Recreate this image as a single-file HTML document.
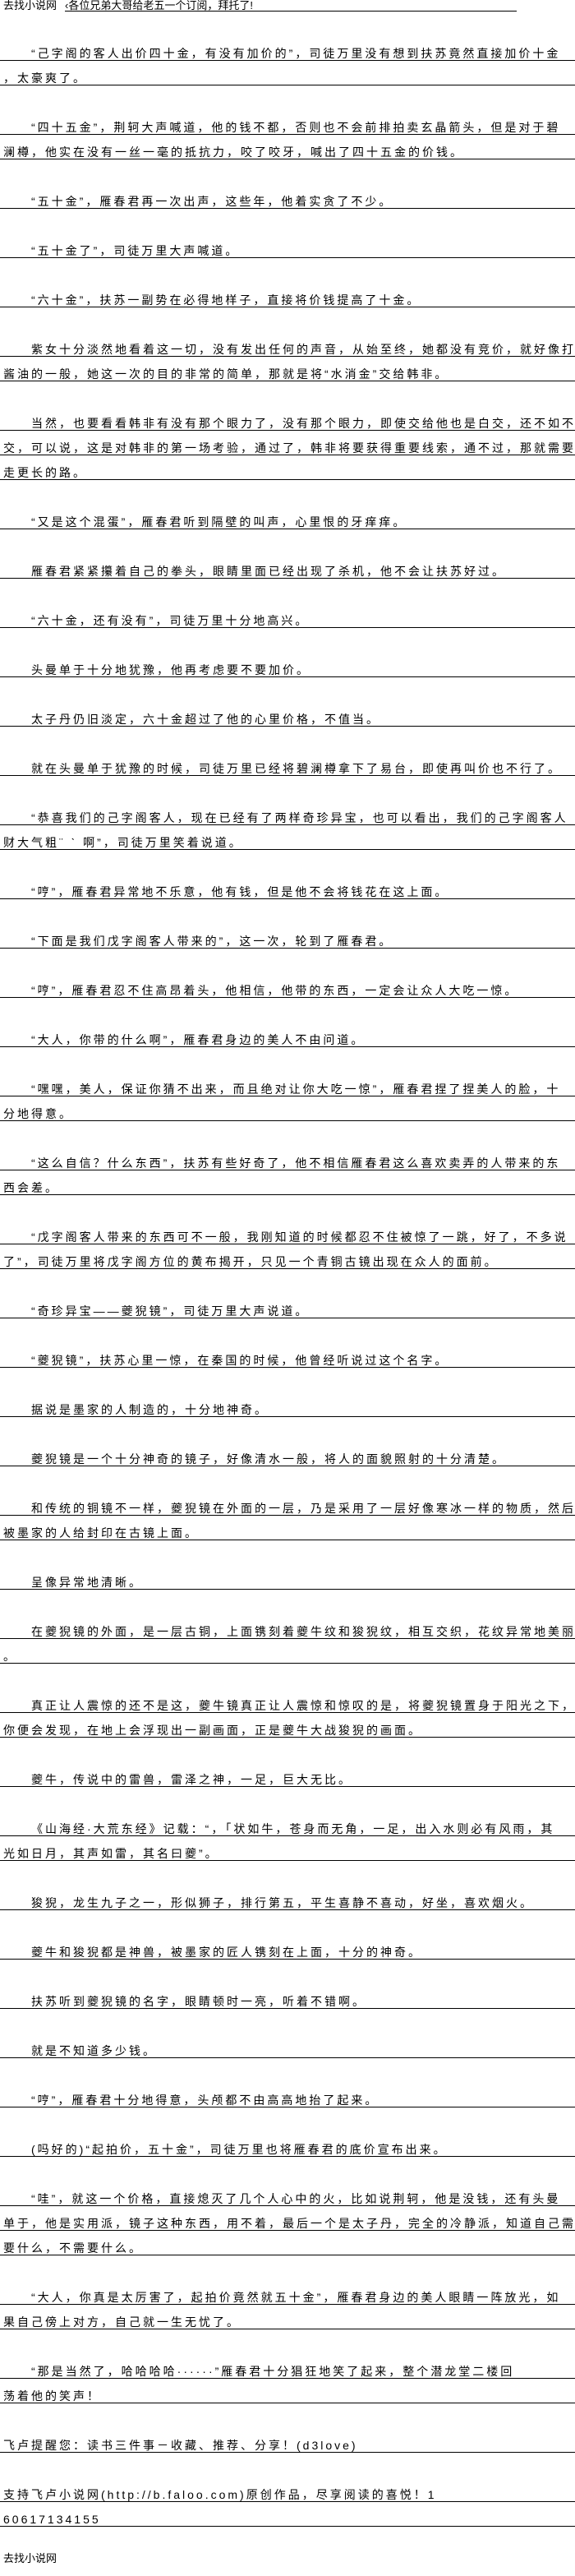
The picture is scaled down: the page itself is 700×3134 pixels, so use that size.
<!DOCTYPE html>
<html><head><meta charset="utf-8">
<style>
html,body{margin:0;padding:0;background:#fff;}
body{width:700px;height:3110px;overflow:hidden;font-family:"Liberation Sans","Noto Sans CJK SC","WenQuanYi Zen Hei",sans-serif;color:#000;}
.hd{height:14px;position:relative;font-size:13px;line-height:13px;white-space:nowrap;}
.hd .a{position:absolute;left:4px;top:0;}
.hd .b{position:absolute;left:79px;top:0;width:550px;height:13px;border-bottom:1px solid #000;}
p{margin:30px 0 0 0;padding:0;}
.l{height:30px;box-sizing:border-box;border-bottom:1px solid #000;position:relative;white-space:nowrap;font-size:14px;letter-spacing:3px;}
.l span{position:absolute;left:4px;bottom:1px;line-height:14px;}
.i span{left:38px;}
.ft{height:30px;position:relative;font-size:13px;white-space:nowrap;}
.ft span{position:absolute;left:4px;top:2px;line-height:13px;}
</style></head><body>
<div class="hd"><span class="a">去找小说网</span><span class="b">‹各位兄弟大哥给老五一个订阅，拜托了!</span></div>

<p><div class="l i"><span>“己字阁的客人出价四十金，有没有加价的”，司徒万里没有想到扶苏竟然直接加价十金</span></div><div class="l"><span>，太豪爽了。</span></div></p>
<p><div class="l i"><span>“四十五金”，荆轲大声喊道，他的钱不都，否则也不会前排拍卖玄晶箭头，但是对于碧</span></div><div class="l"><span>澜樽，他实在没有一丝一毫的抵抗力，咬了咬牙，喊出了四十五金的价钱。</span></div></p>
<p><div class="l i"><span>“五十金”，雁春君再一次出声，这些年，他着实贪了不少。</span></div></p>
<p><div class="l i"><span>“五十金了”，司徒万里大声喊道。</span></div></p>
<p><div class="l i"><span>“六十金”，扶苏一副势在必得地样子，直接将价钱提高了十金。</span></div></p>
<p><div class="l i"><span>紫女十分淡然地看着这一切，没有发出任何的声音，从始至终，她都没有竞价，就好像打</span></div><div class="l"><span>酱油的一般，她这一次的目的非常的简单，那就是将“水消金”交给韩非。</span></div></p>
<p><div class="l i"><span>当然，也要看看韩非有没有那个眼力了，没有那个眼力，即使交给他也是白交，还不如不</span></div><div class="l"><span>交，可以说，这是对韩非的第一场考验，通过了，韩非将要获得重要线索，通不过，那就需要</span></div><div class="l"><span>走更长的路。</span></div></p>
<p><div class="l i"><span>“又是这个混蛋”，雁春君听到隔壁的叫声，心里恨的牙痒痒。</span></div></p>
<p><div class="l i"><span>雁春君紧紧攥着自己的拳头，眼睛里面已经出现了杀机，他不会让扶苏好过。</span></div></p>
<p><div class="l i"><span>“六十金，还有没有”，司徒万里十分地高兴。</span></div></p>
<p><div class="l i"><span>头曼单于十分地犹豫，他再考虑要不要加价。</span></div></p>
<p><div class="l i"><span>太子丹仍旧淡定，六十金超过了他的心里价格，不值当。</span></div></p>
<p><div class="l i"><span>就在头曼单于犹豫的时候，司徒万里已经将碧澜樽拿下了易台，即使再叫价也不行了。</span></div></p>
<p><div class="l i"><span>“恭喜我们的己字阁客人，现在已经有了两样奇珍异宝，也可以看出，我们的己字阁客人</span></div><div class="l"><span>财大气粗¨ ˋ 啊”，司徒万里笑着说道。</span></div></p>
<p><div class="l i"><span>“哼”，雁春君异常地不乐意，他有钱，但是他不会将钱花在这上面。</span></div></p>
<p><div class="l i"><span>“下面是我们戊字阁客人带来的”，这一次，轮到了雁春君。</span></div></p>
<p><div class="l i"><span>“哼”，雁春君忍不住高昂着头，他相信，他带的东西，一定会让众人大吃一惊。</span></div></p>
<p><div class="l i"><span>“大人，你带的什么啊”，雁春君身边的美人不由问道。</span></div></p>
<p><div class="l i"><span>“嘿嘿，美人，保证你猜不出来，而且绝对让你大吃一惊”，雁春君捏了捏美人的脸，十</span></div><div class="l"><span>分地得意。</span></div></p>
<p><div class="l i"><span>“这么自信？什么东西”，扶苏有些好奇了，他不相信雁春君这么喜欢卖弄的人带来的东</span></div><div class="l"><span>西会差。</span></div></p>
<p><div class="l i"><span>“戊字阁客人带来的东西可不一般，我刚知道的时候都忍不住被惊了一跳，好了，不多说</span></div><div class="l"><span>了”，司徒万里将戊字阁方位的黄布揭开，只见一个青铜古镜出现在众人的面前。</span></div></p>
<p><div class="l i"><span>“奇珍异宝——夔猊镜”，司徒万里大声说道。</span></div></p>
<p><div class="l i"><span>“夔猊镜”，扶苏心里一惊，在秦国的时候，他曾经听说过这个名字。</span></div></p>
<p><div class="l i"><span>据说是墨家的人制造的，十分地神奇。</span></div></p>
<p><div class="l i"><span>夔猊镜是一个十分神奇的镜子，好像清水一般，将人的面貌照射的十分清楚。</span></div></p>
<p><div class="l i"><span>和传统的铜镜不一样，夔猊镜在外面的一层，乃是采用了一层好像寒冰一样的物质，然后</span></div><div class="l"><span>被墨家的人给封印在古镜上面。</span></div></p>
<p><div class="l i"><span>呈像异常地清晰。</span></div></p>
<p><div class="l i"><span>在夔猊镜的外面，是一层古铜，上面镌刻着夔牛纹和狻猊纹，相互交织，花纹异常地美丽</span></div><div class="l"><span>。</span></div></p>
<p><div class="l i"><span>真正让人震惊的还不是这，夔牛镜真正让人震惊和惊叹的是，将夔猊镜置身于阳光之下，</span></div><div class="l"><span>你便会发现，在地上会浮现出一副画面，正是夔牛大战狻猊的画面。</span></div></p>
<p><div class="l i"><span>夔牛，传说中的雷兽，雷泽之神，一足，巨大无比。</span></div></p>
<p><div class="l i"><span>《山海经·大荒东经》记载：“，「状如牛，苍身而无角，一足，出入水则必有风雨，其</span></div><div class="l"><span>光如日月，其声如雷，其名曰夔”。</span></div></p>
<p><div class="l i"><span>狻猊，龙生九子之一，形似狮子，排行第五，平生喜静不喜动，好坐，喜欢烟火。</span></div></p>
<p><div class="l i"><span>夔牛和狻猊都是神兽，被墨家的匠人镌刻在上面，十分的神奇。</span></div></p>
<p><div class="l i"><span>扶苏听到夔猊镜的名字，眼睛顿时一亮，听着不错啊。</span></div></p>
<p><div class="l i"><span>就是不知道多少钱。</span></div></p>
<p><div class="l i"><span>“哼”，雁春君十分地得意，头颅都不由高高地抬了起来。</span></div></p>
<p><div class="l i"><span>(吗好的)“起拍价，五十金”，司徒万里也将雁春君的底价宣布出来。</span></div></p>
<p><div class="l i"><span>“哇”，就这一个价格，直接熄灭了几个人心中的火，比如说荆轲，他是没钱，还有头曼</span></div><div class="l"><span>单于，他是实用派，镜子这种东西，用不着，最后一个是太子丹，完全的冷静派，知道自己需</span></div><div class="l"><span>要什么，不需要什么。</span></div></p>
<p><div class="l i"><span>“大人，你真是太厉害了，起拍价竟然就五十金”，雁春君身边的美人眼睛一阵放光，如</span></div><div class="l"><span>果自己傍上对方，自己就一生无忧了。</span></div></p>
<p><div class="l i"><span>“那是当然了，哈哈哈哈······”雁春君十分猖狂地笑了起来，整个潜龙堂二楼回</span></div><div class="l"><span>荡着他的笑声！</span></div></p>
<p><div class="l"><span>飞卢提醒您：读书三件事－收藏、推荐、分享！(d3love)</span></div></p>
<p><div class="l"><span>支持飞卢小说网(http://b.faloo.com)原创作品，尽享阅读的喜悦！1</span></div><div class="l"><span>60617134155</span></div></p>
<div class="ft"><span>去找小说网</span></div>
</body></html>
